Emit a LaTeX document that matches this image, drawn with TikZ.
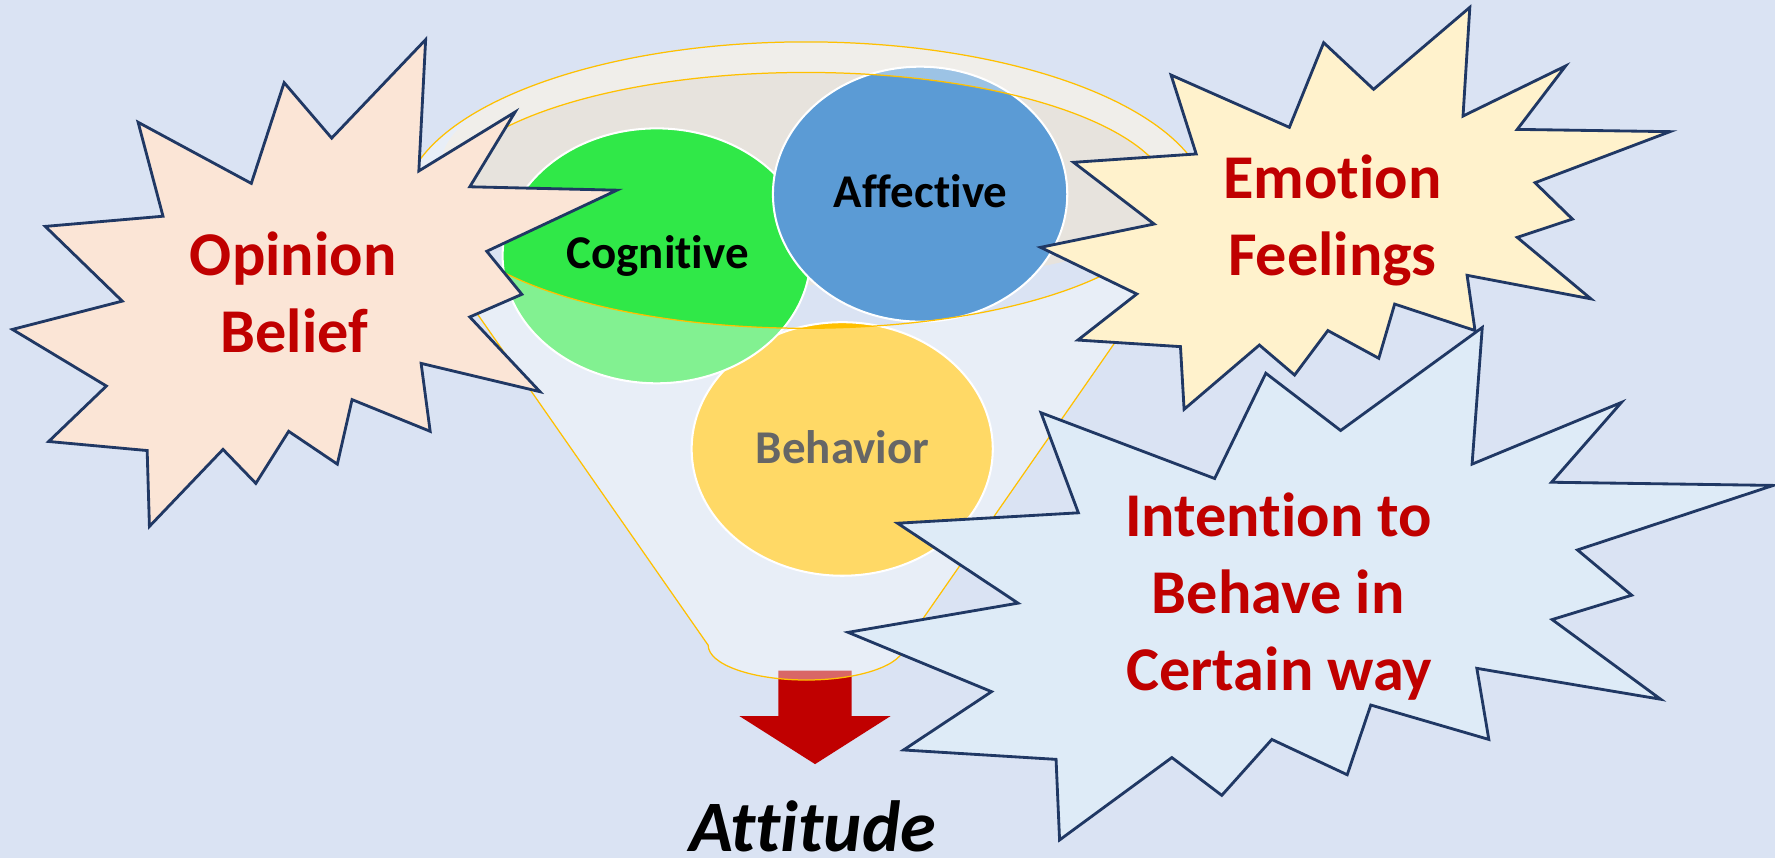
\documentclass[tikz,border=0pt]{standalone}
\usepackage{fontspec}
\setmainfont{Carlito}[Ligatures={NoCommon}]
\definecolor{bgblue}{HTML}{DAE3F3}
\definecolor{starblue}{HTML}{203864}
\definecolor{starA}{HTML}{FBE5D6}
\definecolor{starB}{HTML}{FFF2CC}
\definecolor{starC}{HTML}{DEEBF7}
\definecolor{redtxt}{HTML}{C00000}
\definecolor{arrowred}{HTML}{C00000}
\definecolor{funnelorange}{HTML}{FFC000}
\definecolor{beigein}{HTML}{E7E3DD}
\definecolor{cogn}{HTML}{30E848}
\definecolor{affe}{HTML}{5B9BD5}
\definecolor{behav}{HTML}{FFC000}
\newcommand\funnelpath{(356,183) arc[start angle=180,end angle=0,x radius=356pt,y radius=146pt] -- (799,570) arc[start angle=0,end angle=-180,x radius=86.7pt,y radius=30.7pt] -- cycle}
\begin{document}
\begin{tikzpicture}[x=1pt,y=-1pt,
  starline/.style={draw=starblue, line width=2.5pt, line join=miter},
  orangeline/.style={draw=funnelorange, line width=1.1pt},
  circ/.style={draw=white, line width=1.8pt},
  startext/.style={text=redtxt, font=\fontsize{55}{66}\selectfont\bfseries, anchor=base, inner sep=0pt},
  circtext/.style={text=black, font=\fontsize{41.5}{50}\selectfont\bfseries, anchor=base, inner sep=0pt}]
\useasboundingbox (0,0) rectangle (1568,758);
\fill[bgblue] (0,0) rectangle (1568,758);
% arrow
\fill[arrowred] (687.6,592.5) -- (752.4,592.5) -- (752.4,632.5) -- (786.8,632.5) -- (720,675) -- (653.1,632.5) -- (687.6,632.5) -- cycle;
% inside of funnel
\begin{scope}
\clip \funnelpath;
\fill[beigein] (735,145) ellipse[x radius=345pt,y radius=107pt];
\end{scope}
% circles
\draw[circ, fill=behav] (744,396.6) ellipse[x radius=133pt, y radius=112pt];
\node[circtext] (behaviortext) at (744.3,409) {Behavior};
\draw[circ, fill=cogn] (580,226) ellipse[x radius=136pt, y radius=112.6pt];
\node[circtext] (cognitive) at (580.9,237) {Cognitive};
\draw[circ, fill=affe] (812.8,171.5) ellipse[x radius=130pt, y radius=112.6pt];
\node[circtext] (affective) at (813.2,183.2) {Affective};
% funnel overlay
\fill[white, fill opacity=0.4, even odd rule] \funnelpath (712,177) ellipse[x radius=323pt,y radius=113pt];
\draw[orangeline] \funnelpath;
\draw[orangeline] (712,177) ellipse[x radius=323pt,y radius=113pt];
% stars
\draw[starline, fill=starA] (376,35) -- (370,151) -- (455,99) -- (415,165) -- (545,168) -- (430,222) -- (461,260) -- (415,280) -- (477,346) -- (372,321) -- (380,381) -- (311,353) -- (298,410) -- (255,381) -- (226,427) -- (197,397) -- (132,465) -- (130,398) -- (43,390) -- (94,341) -- (11,291) -- (108,266) -- (40,200) -- (144,191) -- (122,108) -- (222,162) -- (251,73) -- (293,122) -- cycle;
\draw[starline, fill=starB] (1034.5,66.3) -- (1056.7,136) -- (948.4,143.4) -- (1019.5,197.9) -- (919.2,218.5) -- (1004.2,259.7) -- (952.2,300.4) -- (1042.8,306.2) -- (1046,361.6) -- (1112.5,304.8) -- (1143.6,331.3) -- (1173,292) -- (1218,316.5) -- (1232,268.6) -- (1303,292) -- (1296,243.2) -- (1405.4,264) -- (1340.3,209.7) -- (1389,193.5) -- (1356,161.4) -- (1475.2,116.3) -- (1340.3,114.3) -- (1383,58.3) -- (1292.4,102.5) -- (1298.4,6.5) -- (1213.4,78.9) -- (1169.3,37.7) -- (1139,112.5) -- cycle;
\draw[starline, fill=starC] (919.6,364.6) -- (952.6,453) -- (792.9,462.2) -- (899.3,532.8) -- (749.2,558.6) -- (875.9,611) -- (798.2,662.5) -- (932.9,670.8) -- (936,742) -- (1035.2,669.2) -- (1079.3,702.6) -- (1123.5,653.2) -- (1190.1,684.4) -- (1210.9,622.8) -- (1315.2,653.2) -- (1304.6,590.4) -- (1467,617.7) -- (1371.1,547.3) -- (1441.4,525.8) -- (1393.5,485.8) -- (1566.5,428.8) -- (1370.6,426) -- (1432.3,355.5) -- (1300.4,410) -- (1309.4,289.3) -- (1184.3,380.3) -- (1118.2,329.7) -- (1073,422.7) -- cycle;
% star texts
\node[startext] (opinion) at (259,243) {Opinion};
\node[startext] (belief) at (260,311) {Belief};
\node[startext] (emotion) at (1177,175.2) {Emotion};
\node[startext] (feelings) at (1177,243.8) {Feelings};
\node[startext] (intention) at (1129.4,474.3) {Intention to};
\node[startext] (behavein) at (1129.1,541.9) {Behave in};
\node[startext] (certain) at (1130.2,610.1) {Certain way};
\node[anchor=base, inner sep=0pt, font=\fontsize{64}{70}\selectfont\bfseries\itshape] (attitude) at (717.8,752.4) {Attitude};
\end{tikzpicture}
\end{document}
